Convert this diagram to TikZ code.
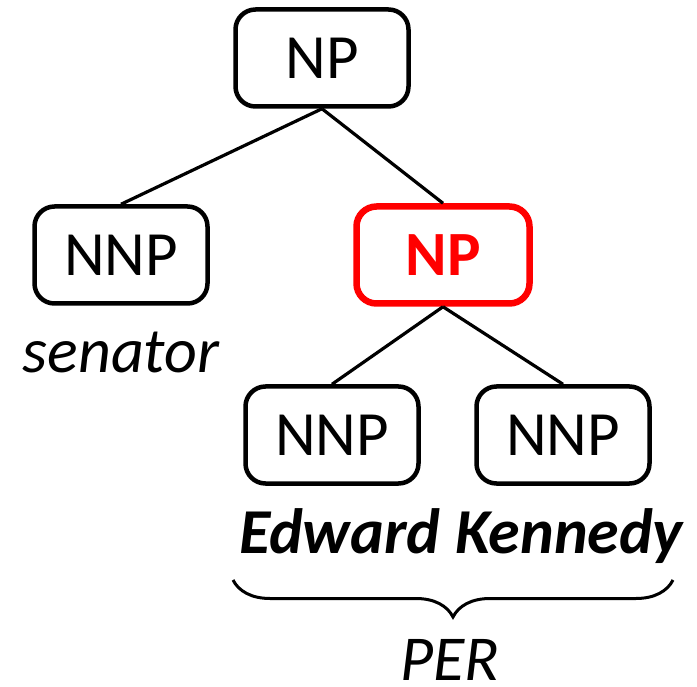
\documentclass[tikz,border=0pt]{standalone}
\usepackage{fontspec}
\setmainfont{Carlito}
\usetikzlibrary{positioning, decorations.pathreplacing}

\begin{document}
\begin{tikzpicture}[
    x=1pt, y=-1pt,
    font=\fontsize{63}{70}\selectfont,
    tag/.style={
        draw=black,
        line width=4.5pt,
        rounded corners=20pt,
        minimum width=173pt,
        minimum height=97pt,
        inner sep=0pt
    },
    entity/.style={tag, draw=red, text=red, line width=6.5pt, font=\fontsize{63}{70}\selectfont\bfseries},
    word/.style={anchor=base, inner sep=0pt, font=\fontsize{64}{70}\selectfont\itshape},
    branch/.style={draw=black, line width=3.2pt},
    brace path/.style={draw=black, line width=3pt, decorate, decoration={brace, mirror, amplitude=37pt}}
]
\useasboundingbox (0,0) rectangle (697,687);

% Tree nodes
\node[tag] (root) at (322, 58) {NP};
\node[tag] (senator_tag) at (121, 255) {NNP};
\node[entity] (per_np) at (443, 255) {NP};
\node[tag] (edward_tag) at (332, 435) {NNP};
\node[tag] (kennedy_tag) at (563, 435) {NNP};

% Words
\node[word] (senator) at (121, 373) {senator};
\node[word, font=\fontsize{64}{70}\selectfont\bfseries\itshape] (name) at (461, 553) {Edward Kennedy};
\node[word, text depth=0pt] (per) at (450, 680) {PER};

% Brace under the name
\coordinate (brace_l) at (233, 580);
\coordinate (brace_r) at (673, 580);

% Edges
\draw[branch] (root.south) -- (senator_tag.north);
\draw[branch] (root.south) -- (per_np.north);
\draw[branch] (per_np.south) -- (edward_tag.north);
\draw[branch] (per_np.south) -- (kennedy_tag.north);
\draw[brace path] (brace_l) -- (brace_r);

\end{tikzpicture}
\end{document}
